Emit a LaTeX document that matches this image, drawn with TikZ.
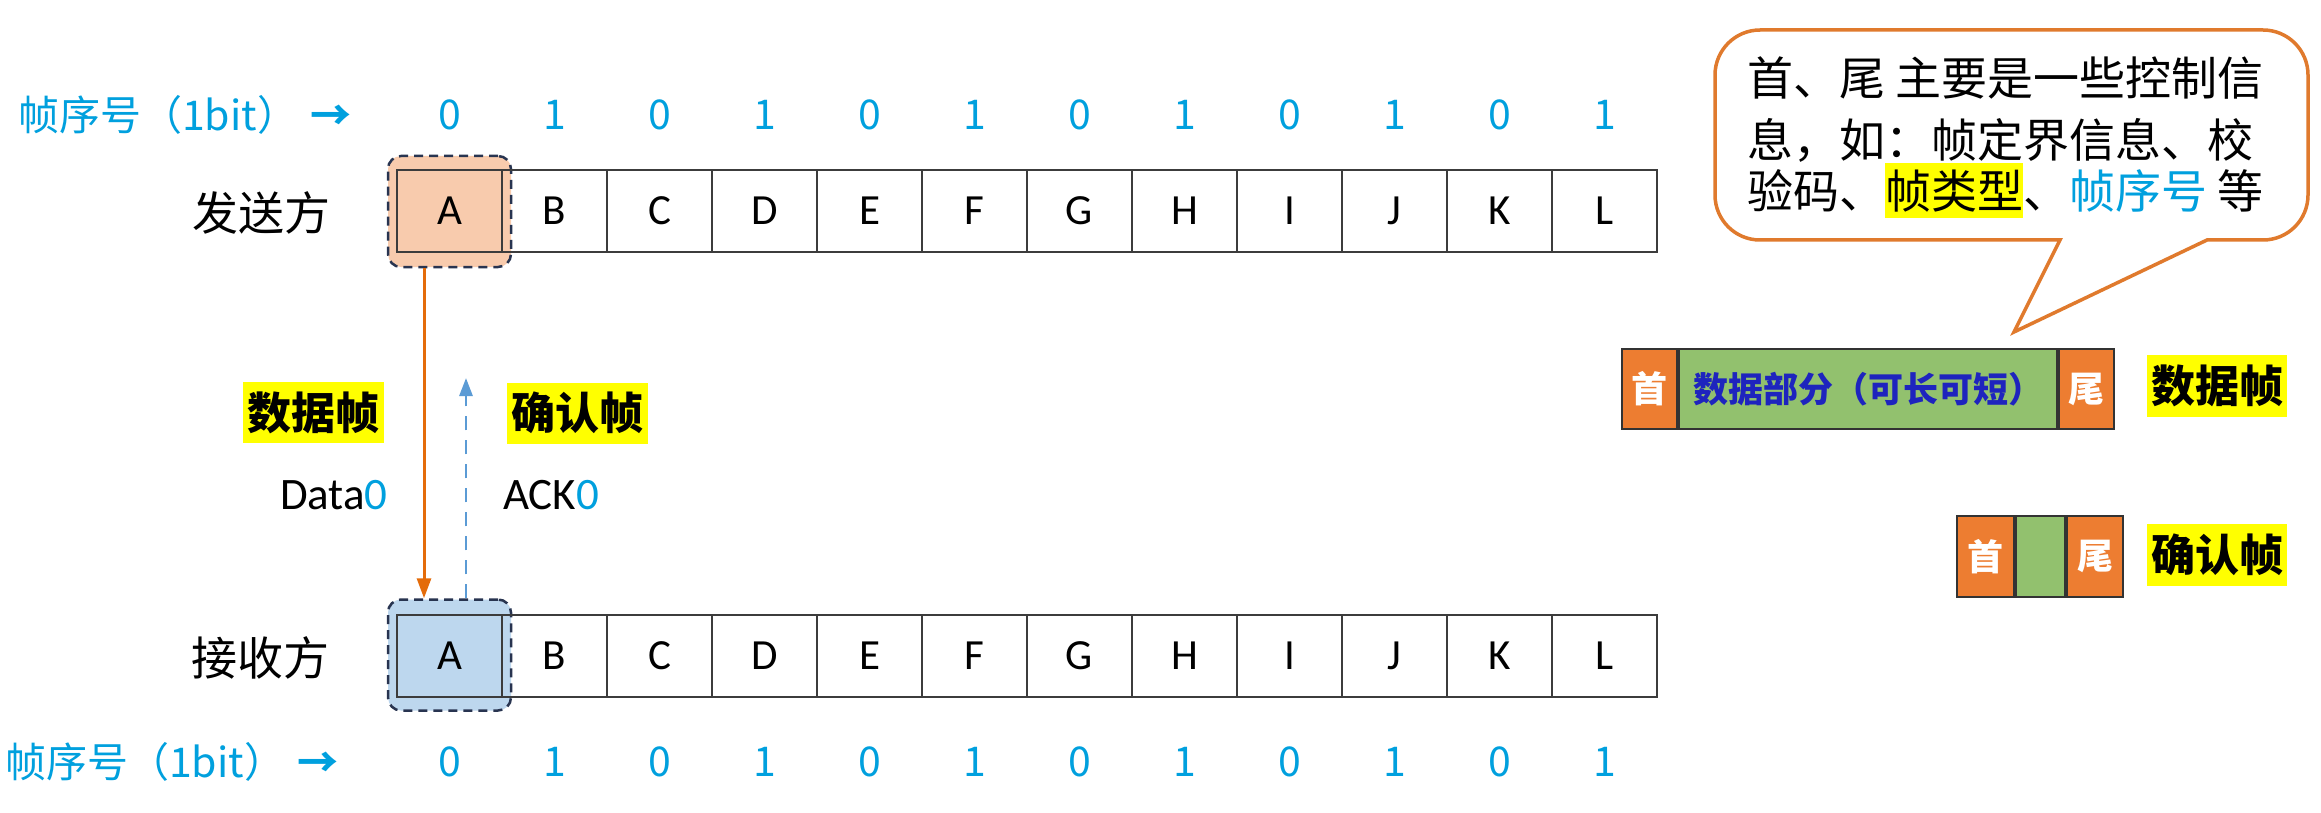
\documentclass[tikz,border=0pt]{standalone}
\usepackage{fontspec}
\setmainfont{Carlito}
\newfontfamily\cjk{Noto Sans CJK SC}
\usetikzlibrary{arrows.meta}
\definecolor{seqc}{RGB}{0,160,222}
\definecolor{hlorange}{RGB}{248,203,173}
\definecolor{hlblue}{RGB}{189,215,238}
\definecolor{navyc}{RGB}{40,52,80}
\definecolor{arrorange}{RGB}{228,108,10}
\definecolor{arrblue}{RGB}{91,155,213}
\definecolor{calloutc}{RGB}{224,122,45}
\definecolor{frorange}{RGB}{237,125,49}
\definecolor{frgreen}{RGB}{146,193,110}
\definecolor{frblue}{RGB}{30,36,190}
\definecolor{hlyellow}{RGB}{255,255,0}
\definecolor{celline}{RGB}{60,60,60}
\newcommand\hlbox[1]{{\setlength{\fboxsep}{0pt}\colorbox{hlyellow}{\rule[-9pt]{0pt}{55pt}#1}}}
\begin{document}
\begin{tikzpicture}[x=1pt,y=-1pt,
 cell/.style={draw=celline, line width=1.6pt, minimum width=105pt, minimum height=82pt, inner sep=0pt, font=\fontsize{43}{43}\selectfont},
 seqnum/.style={text=seqc, font=\cjk\fontsize{41}{41}\selectfont, inner sep=0pt},
 seqlabel/.style={seqnum, anchor=west},
 rolelabel/.style={font=\cjk\fontsize{46}{46}\selectfont, inner sep=0pt},
 hlframe/.style={draw=navyc, line width=2.5pt, dash pattern=on 9pt off 6pt, rounded corners=13pt, minimum width=123pt, minimum height=111pt, inner sep=0pt},
 kindlabel/.style={fill=hlyellow, font=\cjk\bfseries\fontsize{44}{44}\selectfont, inner sep=0pt, minimum height=61pt, minimum width=141pt},
 msg/.style={font=\fontsize{45}{45}\selectfont, inner sep=0pt},
 frpart/.style={draw=black!80, line width=2pt, inner sep=0pt, minimum height=80pt},
 frend/.style={frpart, fill=frorange, text=white, font=\cjk\bfseries\fontsize{36}{36}\selectfont, minimum width=55pt},
 frdata/.style={frpart, fill=frgreen},
 callline/.style={font=\cjk\fontsize{46}{46}\selectfont, inner sep=0pt, anchor=west, text height=40pt, text depth=8pt}
]
\useasboundingbox (0,0) rectangle (2321,813);
\fill[white] (0,0) rectangle (2321,813);

% highlight frames
\node[hlframe, fill=hlorange] (hs) at (449.5,211.5) {};
\node[hlframe, fill=hlblue] (hr) at (449.5,655) {};

% cells
\foreach \L [count=\i from 0] in {A,B,C,D,E,F,G,H,I,J,K,L} {
  \node[cell] (s\i) at ({449.5+105*\i},211) {\L};
  \node[cell] (r\i) at ({449.5+105*\i},656) {\L};
}

% role labels
\node[rolelabel] (snd) at (261,213) {发送方};
\node[rolelabel] (rcv) at (260,658) {接收方};

% sequence numbers
\node[seqlabel] (tl) at (18,115) {帧序号（1bit）\hspace{12pt}{\bfseries →}};
\node[seqlabel] (bl) at (5,762) {帧序号（1bit）\hspace{12pt}{\bfseries →}};
\foreach \d [count=\i from 0] in {0,1,0,1,0,1,0,1,0,1,0,1} {
  \node[seqnum] (ts\i) at ({449.5+105*\i},115) {\d};
  \node[seqnum] (bs\i) at ({449.5+105*\i},762) {\d};
}

% arrows
\draw[arrorange, line width=3pt, -{Triangle[length=20pt,width=14pt]}] ([xshift=-25.5pt]hs.south) -- ([xshift=-25.5pt]hr.north);
\coordinate (ackend) at (466,378);
\draw[arrblue, line width=2.8pt, dash pattern=on 14pt off 10pt, -{Triangle[length=18pt,width=13pt]}] ([xshift=16.5pt]hr.north) -- (ackend);

% kind labels
\node[kindlabel] (dlab) at (313.5,412.5) {数据帧};
\node[kindlabel] (alab) at (577,413) {确认帧};
\node[msg, anchor=east] (d0) at (388,495) {Data\textcolor{seqc}{0}};
\node[msg, anchor=west] (a0) at (503,495) {ACK\textcolor{seqc}{0}};

% data frame
\node[frend, anchor=north west] (dh) at (1621,348) {首};
\node[frdata, anchor=west, minimum width=378pt, text=frblue, font=\cjk\bfseries\fontsize{35}{35}\selectfont] (dd) at (dh.east) {数据部分（可长可短）};
\node[frend, anchor=west] (dt) at (dd.east) {尾};
\node[kindlabel, minimum height=62pt, minimum width=140pt] (dlab2) at (2217,386) {数据帧};

% ack frame
\node[frend, anchor=north west, minimum width=57pt, minimum height=81pt] (ah) at (1956,515) {首};
\node[frdata, anchor=west, minimum width=49pt, minimum height=81pt] (ad) at (ah.east) {};
\node[frend, anchor=west, minimum width=56pt, minimum height=81pt] (at) at (ad.east) {尾};
\node[kindlabel, minimum height=62pt, minimum width=140pt] (alab2) at (2217,555) {确认帧};

% callout
\draw[calloutc, line width=3.5pt, fill=white] (2060,240) -- (2014,332) -- (2207,240) -- (2250,240) [rounded corners=45pt] -- (2308,240) -- (2308,30) -- (1715,30) -- (1715,240) -- (1800,240) [sharp corners] -- cycle;
\node[callline] (c1) at (1747,80) {首、尾 主要是一些控制信};
\node[callline] (c2) at (1747,142) {息，如：帧定界信息、校};
\node[callline] (c3) at (1747,193) {验码、\hlbox{帧类型}、\textcolor{seqc}{帧序号} 等};
\end{tikzpicture}
\end{document}
